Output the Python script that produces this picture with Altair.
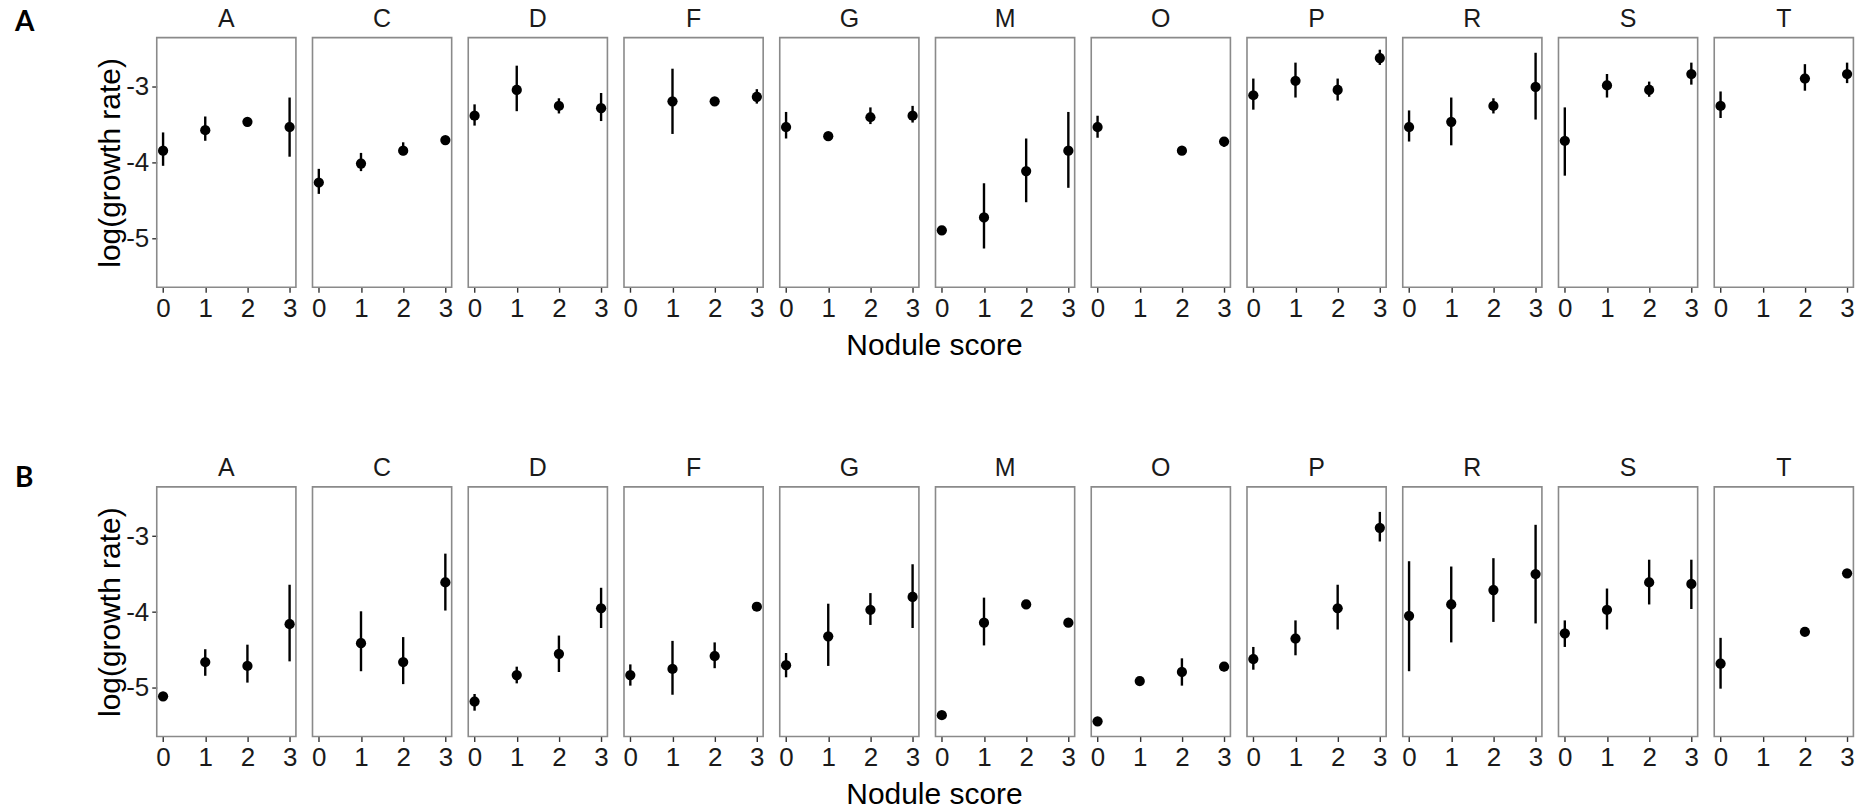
import altair as alt
import pandas as pd

letters = ["A", "C", "D", "F", "G", "M", "O", "P", "R", "S", "T"]
scores = [0, 1, 2, 3]

# Panel A (top row): mean, lower and upper bound per letter for nodule scores 0..3 (None = no data)
top_mean = {
    "A": [-3.84, -3.57, -3.46, -3.53],
    "C": [-4.26, -4.01, -3.84, -3.70],
    "D": [-3.38, -3.04, -3.25, -3.28],
    "F": [None, -3.19, -3.19, -3.13],
    "G": [-3.53, -3.65, -3.40, -3.38],
    "M": [-4.89, -4.72, -4.11, -3.84],
    "O": [-3.53, None, -3.84, -3.72],
    "P": [-3.11, -2.92, -3.04, -2.62],
    "R": [-3.53, -3.46, -3.25, -3.00],
    "S": [-3.71, -2.98, -3.04, -2.83],
    "T": [-3.25, None, -2.89, -2.83],
}
top_lo = {
    "A": [-4.04, -3.71, -3.52, -3.92],
    "C": [-4.41, -4.11, -3.90, -3.74],
    "D": [-3.51, -3.32, -3.35, -3.45],
    "F": [None, -3.62, -3.23, -3.22],
    "G": [-3.68, -3.69, -3.49, -3.47],
    "M": [-4.92, -5.13, -4.52, -4.33],
    "O": [-3.67, None, -3.87, -3.79],
    "P": [-3.30, -3.14, -3.18, -2.71],
    "R": [-3.72, -3.77, -3.35, -3.43],
    "S": [-4.17, -3.14, -3.13, -2.97],
    "T": [-3.41, None, -3.05, -2.95],
}
top_hi = {
    "A": [-3.60, -3.39, -3.40, -3.14],
    "C": [-4.08, -3.87, -3.73, -3.65],
    "D": [-3.23, -2.72, -3.15, -3.08],
    "F": [None, -2.76, -3.15, -3.03],
    "G": [-3.33, -3.61, -3.27, -3.25],
    "M": [-4.86, -4.27, -3.68, -3.33],
    "O": [-3.38, None, -3.81, -3.66],
    "P": [-2.89, -2.68, -2.89, -2.51],
    "R": [-3.31, -3.14, -3.15, -2.55],
    "S": [-3.27, -2.83, -2.93, -2.68],
    "T": [-3.06, None, -2.70, -2.68],
}

# Panel B (bottom row)
bot_mean = {
    "A": [-5.11, -4.66, -4.71, -4.16],
    "C": [None, -4.41, -4.66, -3.61],
    "D": [-5.18, -4.83, -4.55, -3.95],
    "F": [-4.83, -4.75, -4.58, -3.93],
    "G": [-4.70, -4.32, -3.97, -3.80],
    "M": [-5.36, -4.14, -3.90, -4.14],
    "O": [-5.44, -4.91, -4.79, -4.72],
    "P": [-4.62, -4.35, -3.95, -2.89],
    "R": [-4.05, -3.90, -3.71, -3.50],
    "S": [-4.28, -3.97, -3.61, -3.63],
    "T": [-4.68, None, -4.26, -3.49],
}
bot_lo = {
    "A": [-5.15, -4.84, -4.93, -4.65],
    "C": [None, -4.78, -4.95, -3.98],
    "D": [-5.30, -4.94, -4.79, -4.21],
    "F": [-4.97, -5.09, -4.74, -3.95],
    "G": [-4.86, -4.71, -4.17, -4.21],
    "M": [-5.39, -4.44, -3.92, -4.16],
    "O": [-5.47, -4.93, -4.97, -4.78],
    "P": [-4.76, -4.57, -4.23, -3.07],
    "R": [-4.78, -4.40, -4.13, -4.15],
    "S": [-4.46, -4.23, -3.90, -3.96],
    "T": [-5.01, None, -4.28, -3.51],
}
bot_hi = {
    "A": [-5.07, -4.49, -4.43, -3.64],
    "C": [None, -3.99, -4.33, -3.23],
    "D": [-5.08, -4.72, -4.31, -3.68],
    "F": [-4.69, -4.38, -4.40, -3.91],
    "G": [-4.54, -3.89, -3.75, -3.37],
    "M": [-5.33, -3.81, -3.88, -4.12],
    "O": [-5.41, -4.89, -4.61, -4.66],
    "P": [-4.46, -4.11, -3.64, -2.68],
    "R": [-3.33, -3.40, -3.29, -2.85],
    "S": [-4.11, -3.69, -3.31, -3.31],
    "T": [-4.34, None, -4.24, -3.47],
}

y_ticks = [-3, -4, -5]
x_title = "Nodule score"
y_title = "log(growth rate)"

FONT = "Liberation Sans"
TXT = "#1a1a1a"


def build_df(mean, lo, hi):
    rows = []
    for L in letters:
        for i, s in enumerate(scores):
            if mean[L][i] is None:
                continue
            rows.append({"letter": L, "score": s, "mean": mean[L][i], "lo": lo[L][i], "hi": hi[L][i]})
    return pd.DataFrame(rows)


def row_chart(df, tag, tag_y):
    xs = alt.Scale(domain=[-0.15, 3.15], nice=False, zero=False)
    ys = alt.Scale(domain=[-5.64, -2.35], nice=False, zero=False)
    xax = alt.Axis(values=scores, title=None, grid=False, domain=False,
                   labelFlush=False, labelOverlap=False, format="d")
    yax = alt.Axis(values=y_ticks, title=y_title, grid=False, domain=False,
                   labelExpr="'' + datum.value")
    base = alt.Chart()
    rules = base.mark_rule(color="black", strokeWidth=2.4).encode(
        x=alt.X("score:Q", scale=xs, axis=xax),
        y=alt.Y("lo:Q", scale=ys, axis=yax),
        y2="hi:Q",
    )
    pts = base.mark_circle(color="black", opacity=1, size=105).encode(
        x=alt.X("score:Q", scale=xs, axis=xax),
        y=alt.Y("mean:Q", scale=ys, axis=yax),
    )
    lab = base.mark_text(text=tag, font="Lato", fontSize=28, fontWeight="bold",
                         align="left", baseline="alphabetic", color="black").encode(
        x=alt.value(-142), y=alt.value(tag_y)
    ).transform_filter("datum.letter == 'A' && datum.score == 0")
    layered = alt.layer(rules, pts, lab).properties(width=139.4, height=250)
    return layered.facet(
        column=alt.Column("letter:N", sort=letters,
                          header=alt.Header(title=x_title, titleOrient="bottom", labelOrient="top",
                                            titleFont=FONT, titleFontSize=30, titleFontWeight="normal",
                                            titleColor="black", titlePadding=0,
                                            labelFontSize=25, labelFont=FONT,
                                            labelColor=TXT, labelPadding=6)),
        data=df, spacing=16, bounds="flush",
    )


top = row_chart(build_df(top_mean, top_lo, top_hi), "A", -7)
bottom = row_chart(build_df(bot_mean, bot_lo, bot_hi), "B", 0)

chart = alt.vconcat(top, bottom, spacing=95).properties(
    padding={"left": 14, "top": 6, "right": 5, "bottom": 5}
).configure_view(
    stroke="#8a8a8a", strokeWidth=1.6
).configure_axis(
    labelFont=FONT, labelFontSize=26, labelColor=TXT,
    titleFont=FONT, titleFontSize=30, titleFontWeight="normal", titleColor="black",
    tickColor="#333333", tickWidth=1.4, tickSize=5, labelPadding=3,
).configure_axisY(
    titlePadding=0
)

chart.save("out.html", embed_options={"renderer": "svg", "actions": False})
